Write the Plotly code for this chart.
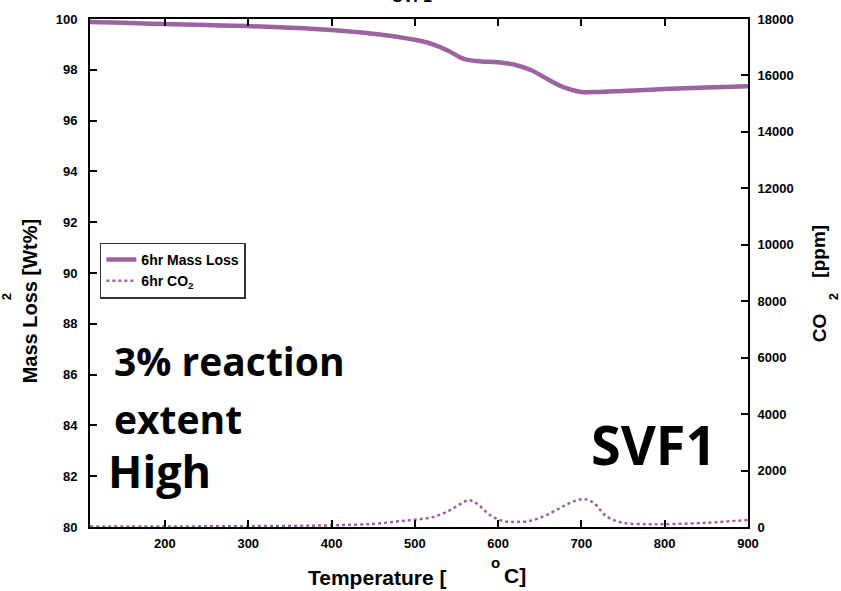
import plotly.graph_objects as go

# Mass loss curve (Wt%)
temp_mass = [110, 150, 200, 250, 300, 350, 400, 450, 500, 520, 540, 555, 565, 580, 600, 620, 640, 660, 680, 700, 720, 750, 800, 850, 900]
mass_loss = [99.88, 99.85, 99.8, 99.76, 99.72, 99.66, 99.57, 99.42, 99.18, 99.02, 98.75, 98.48, 98.38, 98.33, 98.3, 98.2, 97.98, 97.62, 97.3, 97.13, 97.13, 97.17, 97.24, 97.3, 97.35]

# CO2 curve (ppm)
temp_co2 = [110, 200, 300, 400, 450, 480, 500, 520, 540, 555, 565, 575, 590, 605, 620, 640, 660, 680, 695, 705, 715, 730, 750, 780, 800, 850, 900]
co2_ppm = [20, 20, 30, 60, 110, 200, 260, 340, 560, 820, 950, 820, 430, 220, 180, 230, 450, 760, 950, 980, 850, 380, 150, 100, 100, 150, 250]

x_ticks = [200, 300, 400, 500, 600, 700, 800, 900]
y_ticks = list(range(80, 101, 2))
y2_ticks = list(range(0, 18001, 2000))

purple = "#9c62a2"
AR = "Liberation Sans, Arial"
tick_font = dict(family=AR, size=13, color="black", weight="bold")

fig = go.Figure()
fig.add_trace(go.Scatter(x=temp_mass, y=mass_loss, mode="lines", name="6hr Mass Loss",
                         line=dict(color=purple, width=4.5, shape="spline"), yaxis="y"))
fig.add_trace(go.Scatter(x=temp_co2, y=co2_ppm, mode="lines", name="6hr CO<sub>2</sub>",
                         line=dict(color=purple, width=2.5, dash="dot", shape="spline"), yaxis="y2"))

fig.update_layout(
    width=841, height=591,
    margin=dict(l=90, r=93, t=16, b=64),
    paper_bgcolor="white", plot_bgcolor="white",
    showlegend=True,
    legend=dict(x=0.015, y=0.56, xanchor="left", yanchor="top",
                bordercolor="#333", borderwidth=1.5, bgcolor="white",
                font=dict(family=AR, size=14, color="black", weight="bold"),
                itemwidth=30, tracegroupgap=2),
    xaxis=dict(range=[110, 900], tickvals=x_ticks,
               ticks="inside", ticklen=7, tickwidth=1.5, tickcolor="black",
               showline=True, linecolor="black", linewidth=2, mirror="ticks",
               showgrid=False, zeroline=False, tickfont=tick_font, ticklabelstandoff=3),
    yaxis=dict(range=[80, 100], tickvals=y_ticks,
               ticks="inside", ticklen=7, tickwidth=1.5, tickcolor="black",
               showline=True, linecolor="black", linewidth=2,
               showgrid=False, zeroline=False, tickfont=tick_font, ticklabelstandoff=8),
    yaxis2=dict(range=[0, 18000], tickvals=y2_ticks, ticktext=[str(v) for v in y2_ticks],
                overlaying="y", side="right",
                ticks="inside", ticklen=7, tickwidth=1.5, tickcolor="black",
                showline=True, linecolor="black", linewidth=2,
                showgrid=False, zeroline=False, tickfont=tick_font, ticklabelstandoff=5),
)

def px_x(x):
    return (x - 90) / 658

def px_y(y):
    return 1 - (y - 16) / 511

big = [
    ("3% reaction", 112, 360, 39),
    ("extent", 112, 418, 39),
    ("High", 106, 470, 45),
    ("SVF1", 589, 444, 54),
]
for text, x, y, size in big:
    fig.add_annotation(text=text, xref="paper", yref="paper", x=px_x(x), y=px_y(y),
                       xanchor="left", yanchor="middle", showarrow=False,
                       font=dict(family="Open Sans", size=size, color="black", weight="bold"))

def label(text, x, y, size, angle=0, anchor="center"):
    fig.add_annotation(text=text, xref="paper", yref="paper", x=px_x(x), y=px_y(y),
                       xanchor=anchor, yanchor="middle", textangle=angle, showarrow=False,
                       font=dict(family=AR, size=size, color="black", weight="bold"))

# x axis title
label("Temperature [", 306, 578, 21, anchor="left")
label("o", 495, 563, 15)
label("C]", 502, 576, 21, anchor="left")
# left y axis title
label("Mass Loss [Wt%]", 30, 300, 20, angle=-90)
label("2", 6, 296, 13, angle=-90)
# right y axis title
label("CO", 819, 327, 19, angle=-90)
label("2", 833, 296, 13, angle=-90)
label("[ppm]", 819, 250, 19, angle=-90)
# cropped title at top
fig.add_annotation(text="SVF1", xref="paper", yref="paper", x=px_x(412), y=1 + 12 / 511,
                   xanchor="center", yanchor="bottom", showarrow=False,
                   font=dict(family=AR, size=16, color="black", weight="bold"))

fig.write_html("out.html")
